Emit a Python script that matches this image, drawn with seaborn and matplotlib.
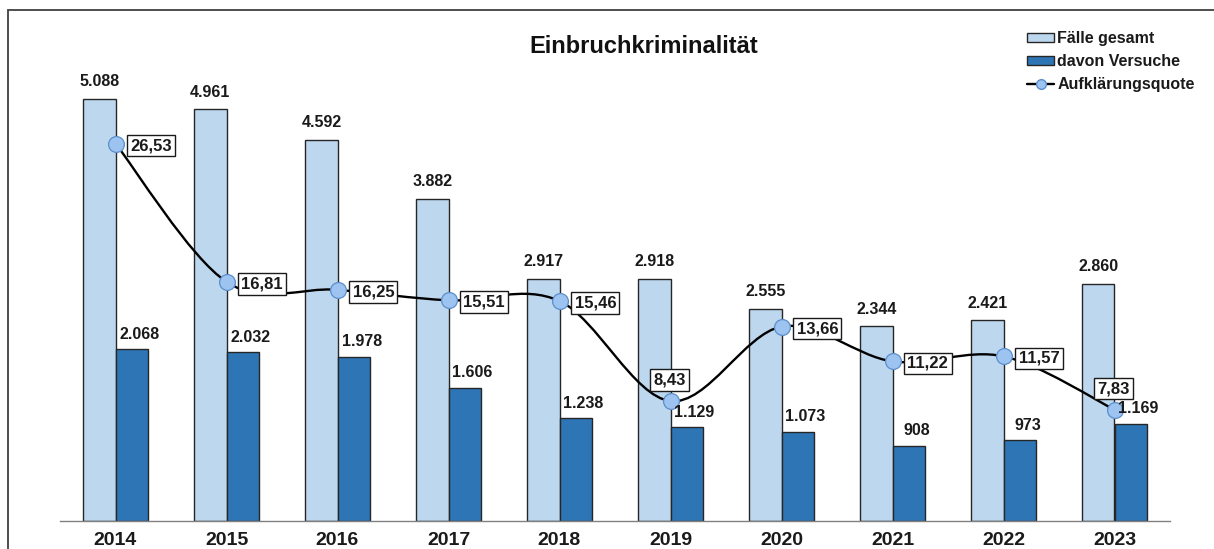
import numpy as np
import pandas as pd
import matplotlib
matplotlib.use("Agg")
import matplotlib.pyplot as plt
from matplotlib.path import Path
from matplotlib.patches import PathPatch, Patch, Rectangle
from matplotlib.lines import Line2D
import seaborn as sns

# ---- data ----
years = ["2014", "2015", "2016", "2017", "2018", "2019", "2020", "2021", "2022", "2023"]
faelle_gesamt = [5088, 4961, 4592, 3882, 2917, 2918, 2555, 2344, 2421, 2860]
davon_versuche = [2068, 2032, 1978, 1606, 1238, 1129, 1073, 908, 973, 1169]
aufklaerungsquote = [26.53, 16.81, 16.25, 15.51, 15.46, 8.43, 13.66, 11.22, 11.57, 7.83]
series_names = ["Fälle gesamt", "davon Versuche", "Aufklärungsquote"]
title = "Einbruchkriminalität"
# label placement for the rate labels ("r" = right of marker, "a" = above)
rate_label_side = ["r", "r", "r", "r", "r", "a", "r", "r", "r", "a"]

# ---- style ----
sns.set_style("white")
plt.rcParams["font.family"] = ["Liberation Sans", "DejaVu Sans"]
plt.rcParams["font.weight"] = "bold"

light = "#BDD7EE"
dark = "#2E75B6"
marker_fill = "#9DC3F0"
marker_edge = "#5B8FCC"
txt_col = "#1a1a1a"

df = pd.DataFrame({
    "Jahr": years * 2,
    "Anzahl": faelle_gesamt + davon_versuche,
    "Serie": [series_names[0]] * len(years) + [series_names[1]] * len(years),
})

fig = plt.figure(figsize=(12.14, 5.49), dpi=100)
ax = fig.add_axes([60 / 1214, 1 - 521 / 549, 1110 / 1214, 498 / 549])

sns.barplot(data=df, x="Jahr", y="Anzahl", hue="Serie", order=years,
            hue_order=series_names[:2], palette=[light, dark], width=0.58,
            edgecolor="#262626", linewidth=1.0, saturation=1, ax=ax,
            legend=False)

ax.set_xlim(-0.5, len(years) - 0.5)
ax.set_ylim(0, 6000)
ax.set_xlabel("")
ax.set_ylabel("")
ax.set_yticks([])
for s in ["left", "right", "top"]:
    ax.spines[s].set_visible(False)
ax.spines["bottom"].set_color("#808080")
ax.spines["bottom"].set_linewidth(1.0)
ax.set_xticks(np.arange(len(years)))
ax.set_xticklabels(years, fontsize=14, fontweight="bold", color=txt_col)
ax.set_xticks(np.arange(-0.5, len(years)), minor=True)
ax.tick_params(axis="x", which="major", length=0, pad=8)
ax.tick_params(axis="x", which="minor", length=6, width=1.0, color="#808080",
               direction="out")

# ---- rate line on secondary axis ----
ax2 = ax.twinx()
ax2.set_ylim(0, 35)
ax2.set_yticks([])
for s in ["left", "right", "top", "bottom"]:
    ax2.spines[s].set_visible(False)

xs = np.arange(len(years), dtype=float)
ys = np.array(aufklaerungsquote, dtype=float)
P = np.column_stack([xs, ys])
Pext = np.vstack([P[0], P, P[-1]])
verts = [tuple(P[0])]
codes = [Path.MOVETO]
for i in range(len(P) - 1):
    p0, p1, p2, p3 = Pext[i], Pext[i + 1], Pext[i + 2], Pext[i + 3]
    c1 = p1 + (p2 - p0) / 6.0
    c2 = p2 - (p3 - p1) / 6.0
    verts += [tuple(c1), tuple(c2), tuple(p2)]
    codes += [Path.CURVE4] * 3
ax2.add_patch(PathPatch(Path(verts, codes), facecolor="none", edgecolor="black",
                        linewidth=1.7, zorder=3))
sns.scatterplot(x=xs, y=ys, ax=ax2, s=130, color=marker_fill,
                edgecolor=marker_edge, linewidth=0.9, zorder=5, legend=False)

for x, y, side in zip(xs, ys, rate_label_side):
    txt = f"{y:.2f}".replace(".", ",")
    if side == "r":
        off, ha, va = (15, -2), "left", "center"
    else:
        off, ha, va = (-1, 21), "center", "center"
    ax2.annotate(txt, (x, y), xytext=off, textcoords="offset pixels",
                 ha=ha, va=va, fontsize=12, fontweight="bold", color=txt_col,
                 zorder=4,
                 bbox=dict(boxstyle="square,pad=0.2", facecolor="white",
                           edgecolor=txt_col, linewidth=1.0))

# ---- bar value labels (drawn on top of everything) ----
def de_int(v):
    return f"{v:,}".replace(",", ".")

label_shift = [0, 8]   # horizontal pixel shift of value labels per series
label_lift = [17, 15]  # vertical pixel offset of label centre above bar top
for k, cont in enumerate(ax.containers):
    for b in cont:
        h = b.get_height()
        ax2.annotate(de_int(int(round(h))), (b.get_x() + b.get_width() / 2, h),
                     xycoords=ax.transData,
                     xytext=(label_shift[k], label_lift[k]),
                     textcoords="offset pixels", ha="center", va="center",
                     fontsize=11.5, fontweight="bold", color=txt_col, zorder=6)

# ---- title, legend, frame ----
fig.text(644 / 1214, 1 - 47 / 549, title, ha="center", va="center",
         fontsize=17, fontweight="bold", color="#111111")

handles = [
    Patch(facecolor=light, edgecolor="#262626", linewidth=1.0),
    Patch(facecolor=dark, edgecolor="#262626", linewidth=1.0),
    Line2D([0], [0], color="black", linewidth=1.7, marker="o", markersize=7,
           markerfacecolor=marker_fill, markeredgecolor=marker_edge),
]
leg = fig.legend(handles, series_names, loc="upper left",
                 bbox_to_anchor=(1027 / 1214, 1 - 31 / 549), frameon=False,
                 prop={"size": 11.5, "weight": "bold"}, borderpad=0,
                 borderaxespad=0, handlelength=1.7, handleheight=0.5,
                 handletextpad=0.2, labelspacing=0.5)
for t in leg.get_texts():
    t.set_color(txt_col)

fig.patches.append(Rectangle((8 / 1214, -0.05), 1.2, 1 - 10 / 549 + 0.05,
                             transform=fig.transFigure, fill=False,
                             edgecolor="#404040", linewidth=1.3, zorder=0))

fig.savefig("out.png", dpi=100)
